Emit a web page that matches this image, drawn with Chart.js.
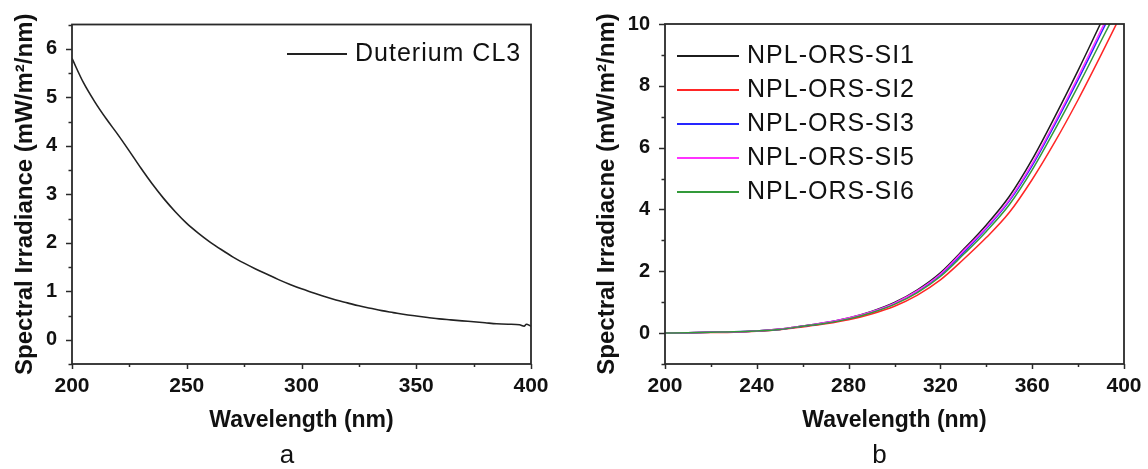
<!DOCTYPE html>
<html><head><meta charset="utf-8">
<script src="https://cdn.jsdelivr.net/npm/chart.js@4.4.0/dist/chart.umd.min.js"></script>
<style>
html,body{margin:0;padding:0;background:#fff;overflow:hidden;width:1148px;height:469px;position:relative;}
#ca{position:absolute;left:0;top:0;}
#cb{position:absolute;left:574px;top:0;}
</style></head><body>
<canvas id="ca" width="574" height="469"></canvas>
<canvas id="cb" width="611" height="469"></canvas>
<script>
// ---------- Panel a data ----------
const wavelengthA = [200,205,210,215,220,225,230,235,240,245,250,255,260,265,270,275,280,285,290,295,300,305,310,315,320,325,330,335,340,345,350,355,360,365,370,375,380,385,390,395,397,398,400];
const duteriumCL3 = [5.80,5.30,4.90,4.55,4.23,3.89,3.54,3.21,2.91,2.64,2.40,2.20,2.02,1.86,1.71,1.58,1.46,1.35,1.24,1.14,1.05,0.97,0.89,0.82,0.76,0.70,0.65,0.60,0.56,0.52,0.49,0.46,0.43,0.41,0.39,0.37,0.35,0.33,0.32,0.31,0.28,0.32,0.28];
const xTicksA = [200,250,300,350,400];
const yTicksA = [0,1,2,3,4,5,6];

// ---------- Panel b data ----------
const wavelengthB = [200,210,220,230,240,250,260,270,280,290,300,310,320,330,340,350,360,370,380,390,400];
const si1 = [0,0.01,0.03,0.04,0.07,0.13,0.23,0.34,0.49,0.70,0.99,1.40,1.95,2.70,3.50,4.42,5.62,7.02,8.50,10.05,11.60];
const si2 = [0,0.01,0.02,0.03,0.06,0.11,0.20,0.30,0.43,0.62,0.87,1.23,1.72,2.38,3.09,3.90,4.97,6.20,7.55,9.00,10.50];
const si3 = [0,0.01,0.03,0.04,0.07,0.12,0.22,0.33,0.47,0.68,0.96,1.35,1.88,2.60,3.38,4.27,5.42,6.77,8.20,9.70,11.20];
const si5 = [0,0.01,0.03,0.04,0.07,0.13,0.23,0.34,0.49,0.69,0.97,1.37,1.91,2.66,3.42,4.31,5.48,6.84,8.29,9.80,11.30];
const si6 = [0,0.01,0.03,0.04,0.07,0.12,0.22,0.32,0.46,0.66,0.93,1.31,1.83,2.54,3.29,4.15,5.28,6.60,7.99,9.45,10.90];
const seriesNamesB = ['NPL-ORS-SI1','NPL-ORS-SI2','NPL-ORS-SI3','NPL-ORS-SI5','NPL-ORS-SI6'];
const xTicksB = [200,240,280,320,360,400];
const yTicksB = [0,2,4,6,8,10];

Chart.defaults.font.family = '"Liberation Sans", Arial, sans-serif';
Chart.defaults.color = '#111';

const toXY = (xs, ys) => xs.map((x, i) => ({x: x, y: ys[i]}));

const framePlugin = {
  id: 'frame',
  afterDraw(chart, args, o) {
    const {ctx, chartArea: a} = chart;
    const xs = chart.scales.x, ys = chart.scales.y;
    ctx.save();
    ctx.strokeStyle = '#2a2a2a';
    ctx.lineWidth = 1.5;
    xs.ticks.forEach(t => {
      const p = Math.round(xs.getPixelForValue(t.value)) + 0.5;
      const len = o.xMajor.includes(t.value) ? 5 : 3;
      ctx.beginPath(); ctx.moveTo(p, a.bottom); ctx.lineTo(p, a.bottom + len); ctx.stroke();
    });
    ys.ticks.forEach(t => {
      const p = Math.round(ys.getPixelForValue(t.value)) + 0.5;
      const len = o.yMajor.includes(t.value) ? 6 : 3.5;
      ctx.beginPath(); ctx.moveTo(a.left, p); ctx.lineTo(a.left - len, p); ctx.stroke();
    });
    ctx.lineWidth = 1.8;
    ctx.strokeRect(a.left, a.top, a.right - a.left, a.bottom - a.top);
    // legend
    const L = o.legend;
    ctx.font = '25px "Liberation Sans", Arial, sans-serif';
    ctx.textBaseline = 'middle';
    ctx.textAlign = 'left';
    try { ctx.letterSpacing = '1px'; } catch (e) {}
    chart.data.datasets.forEach((ds, i) => {
      const y = L.y + i * L.rowH;
      const x0 = a.left + L.dx;
      ctx.strokeStyle = ds.borderColor;
      ctx.lineWidth = 2;
      ctx.beginPath(); ctx.moveTo(x0, y); ctx.lineTo(x0 + L.len, y); ctx.stroke();
      ctx.fillStyle = '#111';
      ctx.fillText(ds.label, x0 + L.len + L.gap, y + 0.5);
    });
    ctx.restore();
  }
};

function makeOptions(cfg) {
  return {
    responsive: false,
    animation: false,
    devicePixelRatio: 1,
    layout: {padding: {top: cfg.top, left: 0, right: 0, bottom: 0}},
    plugins: {
      legend: {display: false},
      tooltip: {enabled: false},
      title: {display: true, text: cfg.panel, position: 'bottom', align: 'center',
              font: {size: 26, weight: 'normal', lineHeight: 1.0}, padding: 0, color: '#111'},
      frame: {xMajor: cfg.xMajor, yMajor: cfg.yMajor, legend: cfg.legend}
    },
    scales: {
      x: {
        type: 'linear', position: 'bottom', min: cfg.xMin, max: cfg.xMax,
        afterBuildTicks: s => { s.ticks = cfg.xAll.map(v => ({value: v})); },
        grid: {display: true, drawOnChartArea: false, drawTicks: true, tickLength: 5, tickColor: 'rgba(0,0,0,0)'},
        border: {display: false},
        ticks: {maxRotation: 0, autoSkip: false, padding: 5, color: '#111',
                font: {size: 21, weight: 'bold'},
                callback: v => cfg.xMajor.includes(v) ? String(v) : ''},
        title: {display: true, text: 'Wavelength (nm)', color: '#111',
                font: {size: 23, weight: 'bold', lineHeight: 1.2}, padding: {top: 0, bottom: 9}},
        afterFit: s => { s.height = 79; }
      },
      y: {
        type: 'linear', position: 'left', min: cfg.yMin, max: cfg.yMax,
        afterBuildTicks: s => { s.ticks = cfg.yAll.map(v => ({value: v})); },
        grid: {display: true, drawOnChartArea: false, drawTicks: true, tickLength: 6, tickColor: 'rgba(0,0,0,0)'},
        border: {display: false},
        ticks: {autoSkip: false, padding: 9, color: '#111', font: {size: 20, weight: 'bold'},
                callback: v => cfg.yMajor.includes(v) ? String(v) : ''},
        title: {display: true, text: cfg.yTitle, color: '#111',
                font: {size: 24, weight: 'bold', lineHeight: 1.2}, padding: {top: cfg.yTitlePad, bottom: 0}},
        afterFit: s => { s.width = cfg.yWidth; }
      },
      r: {
        type: 'linear', position: 'right', display: true,
        grid: {display: false}, border: {display: false}, ticks: {display: false},
        afterFit: s => { s.width = cfg.rWidth; }
      }
    }
  };
}

function range(a, b, step) { const out = []; for (let v = a; v <= b + 1e-9; v += step) out.push(Math.round(v * 100) / 100); return out; }

new Chart(document.getElementById('ca'), {
  type: 'line',
  data: {datasets: [{
    label: 'Duterium CL3', data: toXY(wavelengthA, duteriumCL3),
    borderColor: '#222', borderWidth: 1.6, pointRadius: 0, cubicInterpolationMode: 'monotone', fill: false
  }]},
  options: makeOptions({
    panel: 'a', top: 24.5, xMin: 200, xMax: 400, yMin: -0.5, yMax: 6.5,
    xAll: range(200, 400, 25), yAll: range(-0.5, 6.5, 0.5),
    xMajor: xTicksA, yMajor: yTicksA, yWidth: 72, rWidth: 43, yTitlePad: 11,
    yTitle: 'Spectral Irradiance (mW/m\u00B2/nm)',
    legend: {dx: 215, y: 54, rowH: 34, len: 60, gap: 8}
  }),
  plugins: [framePlugin]
});

const colorsB = ['#1c1c1c', '#ff2626', '#2626ff', '#ff33ff', '#339a3a'];
const valuesB = [si1, si2, si3, si5, si6];
const ordersB = [5, 4, 3, 2, 1];
new Chart(document.getElementById('cb'), {
  type: 'line',
  data: {datasets: valuesB.map((vals, i) => ({
    label: seriesNamesB[i], data: toXY(wavelengthB, vals), order: ordersB[i],
    borderColor: colorsB[i], borderWidth: 1.5, pointRadius: 0, cubicInterpolationMode: 'monotone', fill: false
  }))},
  options: makeOptions({
    panel: 'b', top: 24, xMin: 200, xMax: 400, yMin: -1, yMax: 10,
    xAll: range(200, 400, 20), yAll: range(-1, 10, 1),
    xMajor: xTicksB, yMajor: yTicksB, yWidth: 91, rWidth: 61, yTitlePad: 19,
    yTitle: 'Spectral Irradiacne (mW/m\u00B2/nm)',
    legend: {dx: 12, y: 56, rowH: 34, len: 62, gap: 8}
  }),
  plugins: [framePlugin]
});
</script>
</body></html>
